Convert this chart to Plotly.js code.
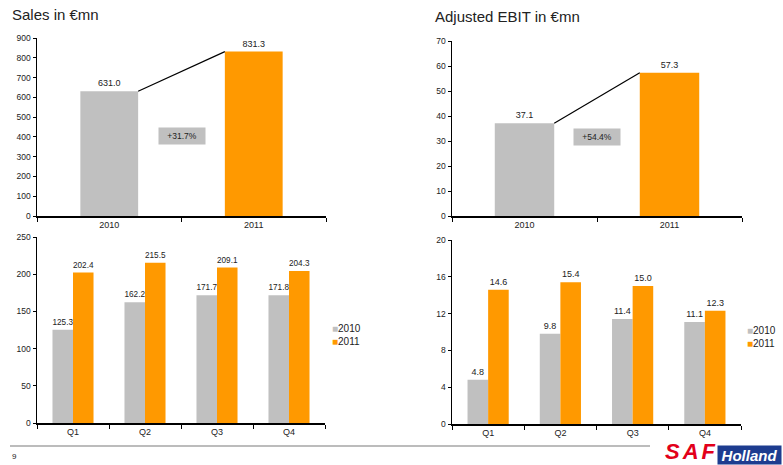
<!DOCTYPE html>
<html>
<head>
<meta charset="utf-8">
<script src="https://cdn.plot.ly/plotly-3.0.1.min.js"></script>
<style>
  html, body { margin: 0; padding: 0; background: #fff; }
  #chart { width: 783px; height: 465px; }
</style>
</head>
<body>
<div id="chart"></div>
<script>
// Annual totals
const yearLabels = ['2010', '2011'];
const salesAnnual = [631.0, 831.3];
const ebitAnnual = [37.1, 57.3];
const salesGrowth = '+31.7%';
const ebitGrowth = '+54.4%';

// Quarterly figures
const quarters = ['Q1', 'Q2', 'Q3', 'Q4'];
const sales2010 = [125.3, 162.2, 171.7, 171.8];
const sales2011 = [202.4, 215.5, 209.1, 204.3];
const ebit2010 = [4.8, 9.8, 11.4, 11.1];
const ebit2011 = [14.6, 15.4, 15.0, 12.3];

const GREY = '#c0c0c0';
const ORANGE = '#ff9900';
const FONT = 'Liberation Sans, Arial, sans-serif';
const TXT = '#222222';
const W = 783, H = 465;

const salesBarW = 0.40;
const ebitBarW = 0.41;

function annualTrace(values, xa, ya, w) {
  return {
    type: 'bar', x: yearLabels, y: values, xaxis: xa, yaxis: ya,
    width: w, marker: { color: [GREY, ORANGE] },
    texttemplate: '%{y:.1f}', textposition: 'outside', cliponaxis: false,
    textfont: { family: FONT, size: 9, color: TXT },
    showlegend: false, hoverinfo: 'x+y'
  };
}

function quarterTrace(name, values, color, xa, ya) {
  return {
    type: 'bar', name: name, x: quarters, y: values, xaxis: xa, yaxis: ya,
    marker: { color: color },
    texttemplate: '%{y:.1f}', textposition: 'outside', cliponaxis: false,
    textfont: { family: FONT, size: 9, color: TXT },
    showlegend: false
  };
}

const quarterly = [
  quarterTrace(yearLabels[0], sales2010, GREY, 'x3', 'y3'),
  quarterTrace(yearLabels[1], sales2011, ORANGE, 'x3', 'y3'),
  quarterTrace(yearLabels[0], ebit2010, GREY, 'x4', 'y4'),
  quarterTrace(yearLabels[1], ebit2011, ORANGE, 'x4', 'y4')
];

const data = [
  annualTrace(salesAnnual, 'x', 'y', salesBarW),
  annualTrace(ebitAnnual, 'x2', 'y2', ebitBarW)
].concat(quarterly);

function xAxis(domain, anchor) {
  return {
    domain: domain, anchor: anchor, type: 'category',
    tickson: 'boundaries', ticks: 'outside', ticklen: 4, tickwidth: 1,
    tickcolor: '#000', showline: true, linecolor: '#000', linewidth: 1.5,
    showgrid: false, zeroline: false, fixedrange: true,
    tickfont: { family: FONT, size: 9, color: TXT }
  };
}

function yAxis(domain, anchor, maxV, step) {
  return {
    domain: domain, anchor: anchor, range: [0, maxV], dtick: step, tick0: 0,
    ticks: 'outside', ticklen: 3, tickwidth: 1, tickcolor: '#000',
    showline: true, linecolor: '#000', linewidth: 1.5,
    showgrid: false, zeroline: false, fixedrange: true,
    tickfont: { family: FONT, size: 8.5, color: TXT }
  };
}

function growthBox(text, xa, ya) {
  return {
    text: text, xref: xa, yref: ya + ' domain', x: 0.5, y: 0.45,
    showarrow: false, bgcolor: GREY, borderpad: 0, width: 46, height: 16,
    font: { family: FONT, size: 8.5, color: TXT }
  };
}

function connector(values, xa, ya, w) {
  return {
    type: 'line', xref: xa, yref: ya,
    x0: w / 2, y0: values[0], x1: 1 - w / 2, y1: values[1],
    line: { color: '#000', width: 1.2 }
  };
}

// Compact key beside a quarterly chart: a coloured square plus the series name
function keyEntries(traces, left, top) {
  return traces.map((t, i) => ({
    text: '<span style="color:' + t.marker.color + '">■</span>' + t.name,
    xref: 'paper', yref: 'paper', x: left / W, y: 1 - (top + i * 13) / H,
    xanchor: 'left', yanchor: 'middle', showarrow: false, borderpad: 0,
    font: { family: FONT, size: 10, color: TXT }
  }));
}

const layout = {
  width: W, height: H,
  margin: { l: 0, r: 0, t: 0, b: 0, autoexpand: false },
  paper_bgcolor: '#fff', plot_bgcolor: 'rgba(0,0,0,0)',
  font: { family: FONT, color: TXT },
  showlegend: false,
  barmode: 'group', bargap: 0.43, bargroupgap: 0,
  xaxis: xAxis([37 / W, 326 / W], 'y'),
  yaxis: yAxis([1 - 216 / H, 1 - 38 / H], 'x', 900, 100),
  xaxis2: xAxis([452 / W, 742 / W], 'y2'),
  yaxis2: yAxis([1 - 216 / H, 1 - 41 / H], 'x2', 70, 10),
  xaxis3: xAxis([37 / W, 325 / W], 'y3'),
  yaxis3: yAxis([1 - 423 / H, 1 - 237 / H], 'x3', 250, 50),
  xaxis4: xAxis([452 / W, 741 / W], 'y4'),
  yaxis4: yAxis([1 - 424 / H, 1 - 240 / H], 'x4', 20, 4),
  shapes: [
    connector(salesAnnual, 'x', 'y', salesBarW),
    connector(ebitAnnual, 'x2', 'y2', ebitBarW),
    // footer rule
    { type: 'line', xref: 'paper', yref: 'paper', x0: 10 / W, x1: 650 / W,
      y0: 1 - 446 / H, y1: 1 - 446 / H, line: { color: '#a6a6a6', width: 1.5 } }
  ],
  annotations: [
    { text: 'Sales in €mn', xref: 'paper', yref: 'paper', x: 10 / W, y: 1 - 15 / H,
      xanchor: 'left', yanchor: 'middle', showarrow: false,
      font: { family: FONT, size: 15, color: TXT } },
    { text: 'Adjusted EBIT in €mn', xref: 'paper', yref: 'paper', x: 433 / W, y: 1 - 16 / H,
      xanchor: 'left', yanchor: 'middle', showarrow: false,
      font: { family: FONT, size: 15, color: TXT } },
    growthBox(salesGrowth, 'x', 'y'),
    growthBox(ebitGrowth, 'x2', 'y2'),
    { text: '9', xref: 'paper', yref: 'paper', x: 10 / W, y: 1 - 456 / H,
      xanchor: 'left', yanchor: 'middle', showarrow: false,
      font: { family: FONT, size: 8, color: TXT } },
    // company logo
    { text: '<b><i><span style="letter-spacing:3px">SAF</span></i></b>', xref: 'paper', yref: 'paper',
      x: 719 / W, y: 0, xanchor: 'right', yanchor: 'bottom', showarrow: false, borderpad: 0,
      font: { family: FONT, size: 22, color: '#e2001a' } },
    { text: '<b><i>Holland</i></b>', xref: 'paper', yref: 'paper', x: 782 / W, y: 0,
      xanchor: 'right', yanchor: 'bottom', showarrow: false, bgcolor: '#1d3c8f',
      borderpad: 0, width: 63, height: 18,
      font: { family: FONT, size: 15, color: '#ffffff' } }
  ]
    .concat(keyEntries(quarterly.slice(0, 2), 331, 328))
    .concat(keyEntries(quarterly.slice(2, 4), 746, 330))
};

Plotly.newPlot('chart', data, layout, { displayModeBar: false, staticPlot: true });
</script>
</body>
</html>
